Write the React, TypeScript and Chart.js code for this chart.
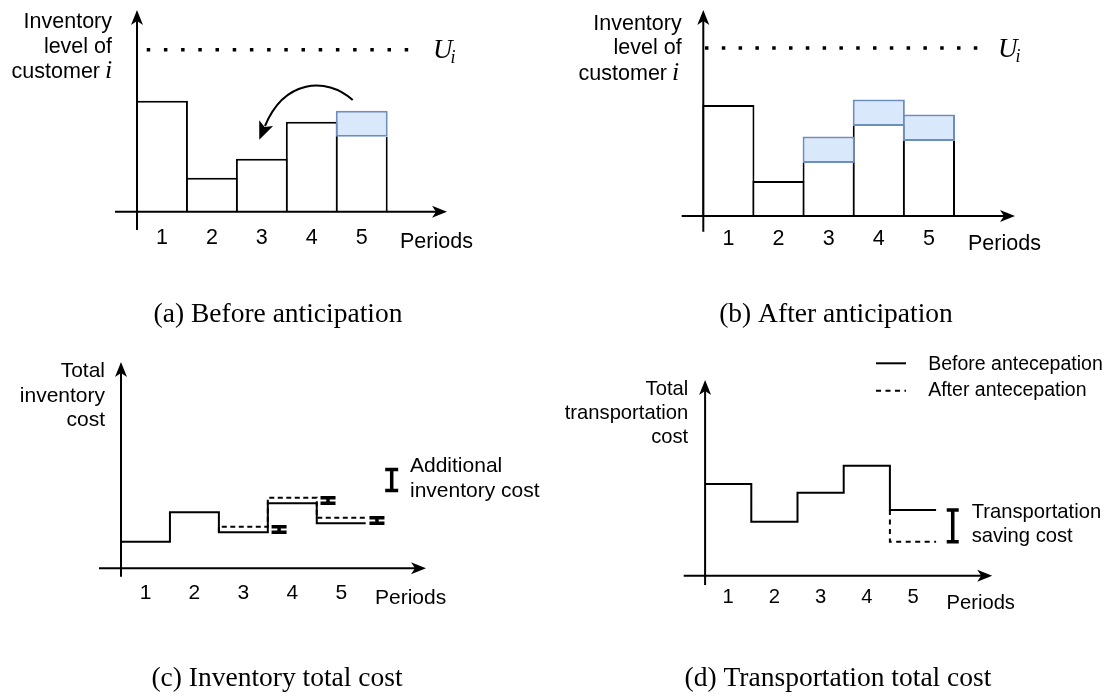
import React, { useEffect, useRef } from 'react';
import { Chart, registerables } from 'chart.js';

Chart.register(...registerables);

// ---------- data ----------
const periods = [1, 2, 3, 4, 5];
const periodLabels = ['1', '2', '3', '4', '5'];
// (a) inventory level before anticipation, and the quantity moved (blue)
const levelA = [11.1, 3.4, 5.3, 9.0, 7.5];
const movedA = [0, 0, 0, 0, 2.6];
const capacityA = 16.2;
// (b) inventory level after anticipation
const levelB = [11.1, 3.5, 5.3, 9.0, 7.5];
const movedB = [0, 0, 2.65, 2.65, 2.65];
const capacityB = 16.8;
// (c) total inventory cost
const invCostBefore = [2.66, 5.6, 3.6, 6.5, 4.5];
const invCostAfter = [2.66, 5.6, 4.16, 7.06, 5.06];
// (d) total transportation cost
const trCostBefore = [9.17, 5.4, 8.3, 11.0, 6.57];
const trCostAfter = [9.17, 5.4, 8.3, 11.0, 3.4];

const captions = [
  '(a) Before anticipation',
  '(b) After anticipation',
  '(c) Inventory total cost',
  '(d) Transportation total cost',
];
const legendLabels = ['Before antecepation', 'After antecepation'];

// ---------- styles ----------
const SANS = '"Liberation Sans", Arial, sans-serif';
const SERIF = '"Liberation Serif", "Times New Roman", serif';
const BLUE_FILL = '#dae8fc';
const BLUE_LINE = '#6c8ebf';

type Geo = { left: number; top: number; w: number; h: number; ox: number; unit: number; oy: number; ppu: number };
type Draw = (ctx: CanvasRenderingContext2D, X: (v: number) => number, Y: (v: number) => number) => void;

const geoA: Geo = { left: 0, top: 0, w: 555, h: 340, ox: 137, unit: 49.94, oy: 211.7, ppu: 10 };
const geoB: Geo = { left: 555, top: 0, w: 556, h: 340, ox: 703.3, unit: 50.14, oy: 216, ppu: 10 };
const geoC: Geo = { left: 0, top: 340, w: 555, h: 359, ox: 121, unit: 48.94, oy: 568.3, ppu: 10 };
const geoD: Geo = { left: 555, top: 340, w: 556, h: 359, ox: 705.1, unit: 46.2, oy: 575.7, ppu: 10 };

function scaleOptions(g: Geo) {
  return {
    layout: {
      padding: {
        left: g.ox - g.left - 0.5 * g.unit,
        right: g.w - (g.ox - g.left + 6.5 * g.unit),
        top: g.oy - g.top - 21 * g.ppu,
        bottom: g.h - (g.oy - g.top + 3 * g.ppu),
      },
    },
    scales: {
      x: { type: 'linear', min: 0, max: 7, display: false, offset: false, ticks: { stepSize: 1 } },
      y: { type: 'linear', min: -3, max: 21, display: false },
    },
  };
}

const common = {
  responsive: false,
  maintainAspectRatio: false,
  animation: false,
  events: [],
  plugins: { legend: { display: false }, tooltip: { enabled: false }, title: { display: false } },
};

function makePlugin(geo: Geo, draw: Draw) {
  return {
    id: 'frame',
    afterDatasetsDraw(chart: any) {
      const ctx = chart.ctx as CanvasRenderingContext2D;
      const xs = chart.scales.x;
      const ys = chart.scales.y;
      const X = (v: number) => xs.getPixelForValue(v) + geo.left;
      const Y = (v: number) => ys.getPixelForValue(v) + geo.top;
      ctx.save();
      ctx.translate(-geo.left, -geo.top);
      draw(ctx, X, Y);
      ctx.restore();
    },
  };
}

// ---------- drawing helpers ----------
function txt(ctx: CanvasRenderingContext2D, s: string, x: number, y: number, size: number,
  align: CanvasTextAlign = 'left', family = SANS, style = '') {
  ctx.font = `${style}${size}px ${family}`;
  ctx.textAlign = align;
  ctx.textBaseline = 'alphabetic';
  ctx.fillStyle = '#000';
  ctx.fillText(s, x, y);
}

function arrowHead(ctx: CanvasRenderingContext2D, x: number, y: number, ang: number, len = 15, half = 6, notch = 4) {
  ctx.save();
  ctx.translate(x, y);
  ctx.rotate(ang);
  ctx.fillStyle = '#000';
  ctx.beginPath();
  ctx.moveTo(0, 0);
  ctx.lineTo(-len, -half);
  ctx.lineTo(-len + notch, 0);
  ctx.lineTo(-len, half);
  ctx.closePath();
  ctx.fill();
  ctx.restore();
}

function axes(ctx: CanvasRenderingContext2D, ox: number, oy: number, xFrom: number, xTo: number, yFrom: number, yTo: number) {
  ctx.save();
  ctx.setLineDash([]);
  ctx.strokeStyle = '#000';
  ctx.lineWidth = 2;
  ctx.beginPath();
  ctx.moveTo(xFrom, oy);
  ctx.lineTo(xTo - 10, oy);
  ctx.moveTo(ox, yFrom);
  ctx.lineTo(ox, yTo + 10);
  ctx.stroke();
  arrowHead(ctx, xTo, oy, 0);
  arrowHead(ctx, ox, yTo, -Math.PI / 2);
  ctx.restore();
}

function dotted(ctx: CanvasRenderingContext2D, x1: number, x2: number, y: number, gap: number) {
  ctx.save();
  ctx.strokeStyle = '#000';
  ctx.lineWidth = 3.5;
  ctx.lineCap = 'butt';
  ctx.setLineDash([3.5, gap]);
  ctx.beginPath();
  ctx.moveTo(x1, y);
  ctx.lineTo(x2, y);
  ctx.stroke();
  ctx.restore();
}

function ibeam(ctx: CanvasRenderingContext2D, x: number, y1: number, y2: number, half: number, lw = 3) {
  ctx.save();
  ctx.setLineDash([]);
  ctx.strokeStyle = '#000';
  ctx.lineWidth = lw;
  ctx.lineCap = 'butt';
  ctx.beginPath();
  ctx.moveTo(x - half, y1);
  ctx.lineTo(x + half, y1);
  ctx.moveTo(x - half, y2);
  ctx.lineTo(x + half, y2);
  ctx.moveTo(x, y1);
  ctx.lineTo(x, y2);
  ctx.stroke();
  ctx.restore();
}

function ticks(ctx: CanvasRenderingContext2D, X: (v: number) => number, base: number, size: number) {
  periods.forEach((p, i) => txt(ctx, periodLabels[i], X(p), base, size, 'center'));
}

function customerLine(ctx: CanvasRenderingContext2D, rightWord: number, iX: number, y: number, size: number) {
  txt(ctx, 'customer', rightWord, y, size, 'right');
  txt(ctx, 'i', iX, y, 26, 'left', SERIF, 'italic ');
}

function uLabel(ctx: CanvasRenderingContext2D, x: number, y: number) {
  ctx.font = `italic 27px ${SERIF}`;
  const w = ctx.measureText('U').width;
  txt(ctx, 'U', x, y, 27, 'left', SERIF, 'italic ');
  txt(ctx, 'i', x + w - 2, y + 5, 18, 'left', SERIF, 'italic ');
}

// ---------- chart configs ----------
function barConfig(geo: Geo, level: number[], moved: number[], draw: Draw) {
  const white = periods.map((p, i) => ({ x: p, y: level[i] }));
  const blue = periods
    .map((p, i) => ({ x: p, y: [level[i], level[i] + moved[i]] }))
    .filter((_, i) => moved[i] > 0);
  // widen by the stroke so neighbouring outlines overlap like centred strokes
  const pct = (geo.unit + 2) / geo.unit;
  return {
    type: 'bar',
    data: {
      datasets: [
        {
          label: 'Anticipated quantity', data: blue, backgroundColor: BLUE_FILL, borderColor: BLUE_LINE,
          borderWidth: 2, borderSkipped: false, grouped: false, barPercentage: pct, categoryPercentage: 1, order: 0,
        },
        {
          label: 'Inventory level', data: white, backgroundColor: '#ffffff', borderColor: '#000000',
          borderWidth: (c: any) => ({ top: moved[c.dataIndex] > 0 ? 0 : 2, left: 2, right: 2, bottom: 0 }),
          borderSkipped: false, grouped: false, barPercentage: pct, categoryPercentage: 1, order: 1,
        },
      ],
    },
    options: { ...common, ...scaleOptions(geo) },
    plugins: [makePlugin(geo, draw)],
  };
}

function stepPoints(vals: number[]) {
  const pts = periods.map((p, i) => ({ x: p - 0.5, y: vals[i] }));
  pts.push({ x: periods[periods.length - 1] + 0.5, y: vals[vals.length - 1] });
  return pts;
}

function changedPoints(before: number[], after: number[]) {
  const k = after.findIndex((v, i) => v !== before[i]);
  const pts = [{ x: periods[k] - 0.5, y: before[k] }];
  for (let j = k; j < periods.length; j++) pts.push({ x: periods[j] - 0.5, y: after[j] });
  pts.push({ x: periods[periods.length - 1] + 0.5, y: after[after.length - 1] });
  return pts;
}

function lineConfig(geo: Geo, before: number[], after: number[], dash: number[], draw: Draw) {
  return {
    type: 'line',
    data: {
      datasets: [
        {
          label: legendLabels[0], data: stepPoints(before), stepped: 'before', borderColor: '#000',
          borderWidth: 2, pointRadius: 0, fill: false, order: 1,
        },
        {
          label: legendLabels[1], data: changedPoints(before, after), stepped: 'before', borderColor: '#000',
          borderWidth: 2, borderDash: dash, pointRadius: 0, fill: false, order: 0,
        },
      ],
    },
    options: { ...common, ...scaleOptions(geo) },
    plugins: [makePlugin(geo, draw)],
  };
}

// ---------- panel drawings ----------
const drawA: Draw = (ctx, X, Y) => {
  dotted(ctx, 146.7, 421.7, Y(capacityA), 13.7);
  axes(ctx, X(0.5), Y(0), 115, 447, 230, 10);
  // curved arrow (moving quantity from period 5 to earlier periods)
  ctx.save();
  ctx.strokeStyle = '#000';
  ctx.lineWidth = 2;
  ctx.beginPath();
  ctx.moveTo(352.7, 100);
  ctx.bezierCurveTo(326, 76, 284, 80, 265, 126);
  ctx.stroke();
  const ang = Math.atan2(126 - 80, 265 - 284);
  arrowHead(ctx, 265 + Math.cos(ang) * 15, 126 + Math.sin(ang) * 15, ang, 18, 7.5, 4);
  ctx.restore();
  txt(ctx, 'Inventory', 112, 28, 21.5, 'right');
  txt(ctx, 'level of', 112, 53, 21.5, 'right');
  customerLine(ctx, 100, 105, 78, 21.5);
  ticks(ctx, X, 243.5, 21.5);
  txt(ctx, 'Periods', 400, 248, 21.5);
  uLabel(ctx, 433, 58);
  txt(ctx, captions[0], 278, 322, 27.5, 'center', SERIF);
};

const drawB: Draw = (ctx, X, Y) => {
  dotted(ctx, 705, 990, Y(capacityB), 13.3);
  axes(ctx, X(0.5), Y(0), 681.7, 1015, 231.7, 10);
  txt(ctx, 'Inventory', 681.7, 30, 21.5, 'right');
  txt(ctx, 'level of', 681.7, 54, 21.5, 'right');
  customerLine(ctx, 667, 672, 80, 21.5);
  ticks(ctx, X, 245, 21.5);
  txt(ctx, 'Periods', 968, 250, 21.5);
  uLabel(ctx, 998, 57);
  txt(ctx, captions[1], 836, 322, 27.5, 'center', SERIF);
};

const drawC: Draw = (ctx, X, Y) => {
  axes(ctx, X(0.5), Y(0), 99, 426, 576.7, 362);
  periods.forEach((p, i) => {
    if (invCostAfter[i] !== invCostBefore[i]) {
      ibeam(ctx, X(p + 0.5 + 0.23), Y(invCostAfter[i]), Y(invCostBefore[i]), 7.5, 3.5);
    }
  });
  ibeam(ctx, 391.7, 469.5, 490.5, 6.5, 3.5);
  txt(ctx, 'Total', 105, 377, 21, 'right');
  txt(ctx, 'inventory', 105, 401.5, 21, 'right');
  txt(ctx, 'cost', 105, 426, 21, 'right');
  ticks(ctx, X, 599, 21);
  txt(ctx, 'Periods', 375, 603.5, 21);
  txt(ctx, 'Additional', 410, 471.7, 21);
  txt(ctx, 'inventory cost', 410, 497, 21);
  txt(ctx, captions[2], 277, 686, 27.5, 'center', SERIF);
};

const drawD: Draw = (ctx, X, Y) => {
  axes(ctx, X(0.5), Y(0), 683.7, 992.2, 585, 380);
  const last = periods.length - 1;
  ibeam(ctx, X(periods[last] + 0.5 + 0.36), Y(trCostBefore[last]), Y(trCostAfter[last]), 6, 3.5);
  // legend
  ctx.save();
  ctx.strokeStyle = '#000';
  ctx.lineWidth = 2;
  ctx.beginPath();
  ctx.moveTo(876, 363.3);
  ctx.lineTo(906, 363.3);
  ctx.stroke();
  ctx.setLineDash([5, 4.5]);
  ctx.beginPath();
  ctx.moveTo(876, 390.7);
  ctx.lineTo(906, 390.7);
  ctx.stroke();
  ctx.restore();
  txt(ctx, legendLabels[0], 928.2, 369.5, 19.5);
  txt(ctx, legendLabels[1], 928.2, 395.5, 19.5);
  txt(ctx, 'Total', 688.2, 395, 20.2, 'right');
  txt(ctx, 'transportation', 688.2, 419, 20.2, 'right');
  txt(ctx, 'cost', 688.2, 443.3, 20.2, 'right');
  ticks(ctx, X, 603.3, 20.2);
  txt(ctx, 'Periods', 946.5, 609, 20.2);
  txt(ctx, 'Transportation', 971.7, 518.3, 20.2);
  txt(ctx, 'saving cost', 971.7, 542, 20.2);
  txt(ctx, captions[3], 838, 686, 27.5, 'center', SERIF);
};

// ---------- components ----------
function Panel({ geo, make }: { geo: Geo; make: () => any }) {
  const ref = useRef<HTMLCanvasElement>(null);
  useEffect(() => {
    if (!ref.current) return;
    const chart = new Chart(ref.current, make());
    return () => chart.destroy();
  }, []);
  return (
    <canvas
      ref={ref}
      width={geo.w}
      height={geo.h}
      style={{ position: 'absolute', left: geo.left, top: geo.top, width: geo.w, height: geo.h }}
    />
  );
}

export default function App() {
  return (
    <div style={{ position: 'fixed', left: 0, top: 0, width: 1111, height: 699, background: '#ffffff', overflow: 'hidden' }}>
      <Panel geo={geoA} make={() => barConfig(geoA, levelA, movedA, drawA)} />
      <Panel geo={geoB} make={() => barConfig(geoB, levelB, movedB, drawB)} />
      <Panel geo={geoC} make={() => lineConfig(geoC, invCostBefore, invCostAfter, [5, 3.5], drawC)} />
      <Panel geo={geoD} make={() => lineConfig(geoD, trCostBefore, trCostAfter, [5, 4.5], drawD)} />
    </div>
  );
}
